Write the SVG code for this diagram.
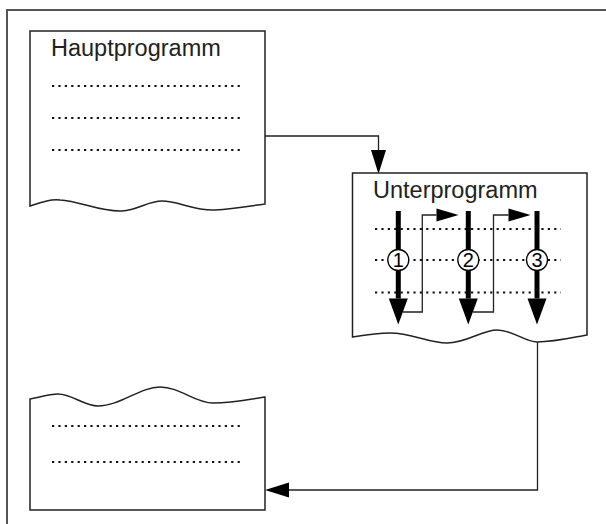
<svg xmlns="http://www.w3.org/2000/svg" width="606" height="524" viewBox="0 0 606 524">
<style>
.frame{fill:none;stroke:#555;stroke-width:2}
.box{fill:#fff;stroke:#222;stroke-width:1.5}
.lbl{font-family:"Liberation Sans",Arial,sans-serif;font-size:23.5px;fill:#222}
.dots{stroke:#111;stroke-width:2.2;stroke-dasharray:2.2 4.2;fill:none}
.thin{fill:none;stroke:#222;stroke-width:1.3}
.thick{fill:none;stroke:#000;stroke-width:5}
.num{font-family:"Liberation Sans",Arial,sans-serif;font-size:20px;fill:#000;text-anchor:middle}
.circ{fill:#fff;stroke:#000;stroke-width:1.3}
</style>
<defs>
<marker id="med" markerUnits="userSpaceOnUse" markerWidth="26" markerHeight="16" refX="0" refY="7.5" orient="auto" overflow="visible">
<path d="M0,0 L24,7.5 L0,15 z" fill="#000"/>
</marker>
<marker id="small" markerUnits="userSpaceOnUse" markerWidth="23" markerHeight="14" refX="0" refY="6.5" orient="auto" overflow="visible">
<path d="M0,0 L22,6.5 L0,13 z" fill="#000"/>
</marker>
<marker id="big" markerUnits="userSpaceOnUse" markerWidth="27" markerHeight="20" refX="0" refY="9.5" orient="auto" overflow="visible">
<path d="M0,0 L26,9.5 L0,19 z" fill="#000"/>
</marker>
</defs>
<path class="frame" d="M7,524 V10 H606"/>
<g id="connectors">
<path class="thin" d="M265,136 H378.5 V150" marker-end="url(#med)"/>
<path class="thin" d="M537.5,342 V490 H289" marker-end="url(#med)"/>
</g>
<g id="hauptprogramm">
<path class="box" d="M30,206 V31 H265 V204 C250,206 235,209 215,210 C195,211 178,201 162,201 C148,201 138,210 122,211 C100,212 80,201 60,200 C50,199 42,202 30,206 z"/>
<text class="lbl" x="51" y="56">Hauptprogramm</text>
<path class="dots" d="M52,86 H240 M52,118 H240 M52,150 H240"/>
</g>
<g id="unterprogramm">
<path class="box" d="M352.5,337 V173 H587 V335 C575,337 555,342 537,342 C525,342 513,330 497,330 C482,330 467,343 447,343 C428,343 412,333 390,333 C378,333 365,335 352.5,337 z"/>
<text class="lbl" x="373" y="198">Unterprogramm</text>
<path class="dots" d="M375,229 H561 M375,260 H561 M375,292.5 H561"/>
<path class="thick" d="M398.3,211 V298.5" marker-end="url(#big)"/>
<path class="thick" d="M468.3,211 V298.5" marker-end="url(#big)"/>
<path class="thick" d="M537,211 V298.5" marker-end="url(#big)"/>
<path class="thin" d="M403,312 H422.3 V215 H436.5" marker-end="url(#small)"/>
<path class="thin" d="M473,312 H493.5 V215 H508.5" marker-end="url(#small)"/>
<circle class="circ" cx="398.3" cy="260" r="10.5"/>
<circle class="circ" cx="468.3" cy="260" r="10.5"/>
<circle class="circ" cx="537" cy="260" r="10.5"/>
<text class="num" x="398.3" y="267">1</text>
<text class="num" x="468.3" y="267">2</text>
<text class="num" x="537" y="267">3</text>
</g>
<g id="fortsetzung">
<path class="box" d="M30,399 C40,397 50,394 58,394 C72,394 84,406 98,406 C120,406 140,387 160,387 C180,387 195,403 213,403 C235,403 250,399 265,397 V510 H30 z"/>
<path class="dots" d="M52,426 H240 M52,462 H240"/>
</g>
</svg>
